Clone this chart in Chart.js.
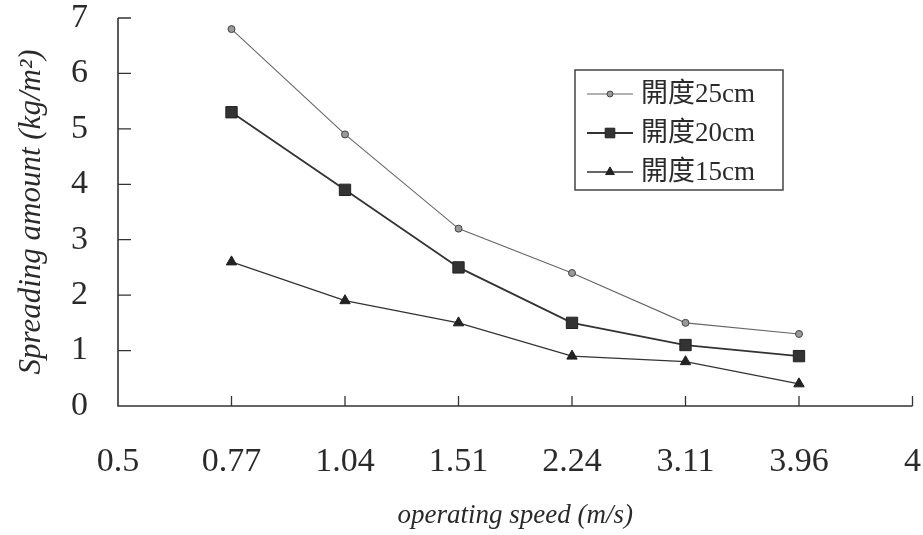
<!DOCTYPE html>
<html>
<head>
<meta charset="utf-8">
<script src="https://cdn.jsdelivr.net/npm/chart.js@4.4.0/dist/chart.umd.min.js"></script>
<style>
  html, body { margin: 0; padding: 0; background: #fff; }
  #wrap { width: 923px; height: 535px; }
</style>
</head>
<body>
<div id="wrap"><canvas id="myChart" width="923" height="535"></canvas></div>
<script>
// x categories (speeds), the first and last are only axis ends
var speeds = ['0.5', '0.77', '1.04', '1.51', '2.24', '3.11', '3.96', '4'];
var open25 = [null, 6.8, 4.9, 3.2, 2.4, 1.5, 1.3, null];
var open20 = [null, 5.3, 3.9, 2.5, 1.5, 1.1, 0.9, null];
var open15 = [null, 2.6, 1.9, 1.5, 0.9, 0.8, 0.4, null];
var seriesNames = ['開度25cm', '開度20cm', '開度15cm'];
var yTicks = [0, 1, 2, 3, 4, 5, 6, 7];

var serif = '"Liberation Serif", "Times New Roman", serif';
var ink = '#2a2a2a';

// axis lines with inside ticks, like the original figure
var axisPlugin = {
    id: 'axisPlugin',
    afterDraw: function(chart) {
        var c = chart.ctx, a = chart.chartArea;
        var xs = chart.scales.x, ys = chart.scales.y;
        c.save();
        c.strokeStyle = '#333';
        c.lineWidth = 1.6;
        c.beginPath();
        c.moveTo(a.left, a.top);
        c.lineTo(a.left, a.bottom);
        c.lineTo(a.right, a.bottom);
        c.stroke();
        c.lineWidth = 1.3;
        c.beginPath();
        yTicks.forEach(function(v) {
            if (v === 0) return;
            var py = ys.getPixelForValue(v);
            c.moveTo(a.left, py);
            c.lineTo(a.left + 13, py);
        });
        for (var i = 1; i < speeds.length; i++) {
            var px = xs.getPixelForValue(i);
            c.moveTo(px, a.bottom);
            c.lineTo(px, a.bottom - 10);
        }
        c.stroke();
        c.restore();
    }
};

// boxed legend drawn inside the plot
var legendPlugin = {
    id: 'boxLegend',
    afterDraw: function(chart) {
        var c = chart.ctx;
        c.save();
        c.strokeStyle = '#444';
        c.lineWidth = 1.5;
        c.strokeRect(575, 70, 208, 120);
        chart.data.datasets.forEach(function(ds, i) {
            var y = 94 + i * 39;
            c.strokeStyle = ds.borderColor;
            c.lineWidth = ds.borderWidth;
            c.beginPath();
            c.moveTo(587, y);
            c.lineTo(633, y);
            c.stroke();
            c.fillStyle = ds.pointBackgroundColor;
            c.strokeStyle = ds.pointBorderColor;
            c.lineWidth = 1;
            Chart.helpers.drawPoint(c, {pointStyle: ds.pointStyle, radius: ds.pointRadius * 0.85, rotation: 0, borderWidth: 1}, 610, y);
            c.fillStyle = ink;
            c.font = '27px ' + serif + ', "Noto Sans CJK TC"';
            c.textBaseline = 'middle';
            c.fillText(ds.label, 641, y + 1);
        });
        c.restore();
    }
};

var ctx = document.getElementById('myChart').getContext('2d');
var chart = new Chart(ctx, {
    type: 'line',
    data: {
        labels: speeds,
        datasets: [{
            label: seriesNames[0],
            data: open25,
            borderColor: '#666',
            borderWidth: 1.1,
            pointStyle: 'circle',
            pointRadius: 3.5,
            pointBackgroundColor: '#999',
            pointBorderColor: '#444',
            pointBorderWidth: 1
        }, {
            label: seriesNames[1],
            data: open20,
            borderColor: '#333',
            borderWidth: 1.8,
            pointStyle: 'rect',
            pointRadius: 8,
            pointBackgroundColor: '#333',
            pointBorderColor: '#222',
            pointBorderWidth: 1
        }, {
            label: seriesNames[2],
            data: open15,
            borderColor: '#333',
            borderWidth: 1.3,
            pointStyle: 'triangle',
            pointRadius: 6,
            pointBackgroundColor: '#222',
            pointBorderColor: '#222',
            pointBorderWidth: 1
        }]
    },
    options: {
        responsive: false,
        animation: false,
        layout: { padding: 0 },
        plugins: { legend: { display: false }, tooltip: { enabled: false } },
        scales: {
            x: {
                type: 'category',
                offset: false,
                // invisible tick marks only used to push the labels down
                grid: { display: true, drawOnChartArea: false, drawTicks: true, tickLength: 34, color: 'rgba(0,0,0,0)' },
                border: { display: false },
                ticks: { color: ink, font: { family: serif, size: 34 }, padding: 2, maxRotation: 0, autoSkip: false },
                title: { display: true, text: 'operating speed (m/s)', color: ink,
                    font: { family: serif, size: 27, style: 'italic' }, padding: { top: 0, bottom: 3 } },
                afterFit: function(scale) { scale.height = 129; }
            },
            y: {
                min: 0,
                max: 7,
                grid: { display: true, drawOnChartArea: false, drawTicks: true, tickLength: 29, color: 'rgba(0,0,0,0)' },
                border: { display: false },
                ticks: { color: ink, stepSize: 1, font: { family: serif, size: 34, lineHeight: 1 }, padding: 1 },
                title: { display: true, text: 'Spreading amount (kg/m²)', color: ink,
                    font: { family: serif, size: 31, style: 'italic' }, padding: { top: 13, bottom: 0 } },
                afterFit: function(scale) { scale.width = 118; }
            }
        }
    },
    plugins: [axisPlugin, legendPlugin]
});
</script>
</body>
</html>
